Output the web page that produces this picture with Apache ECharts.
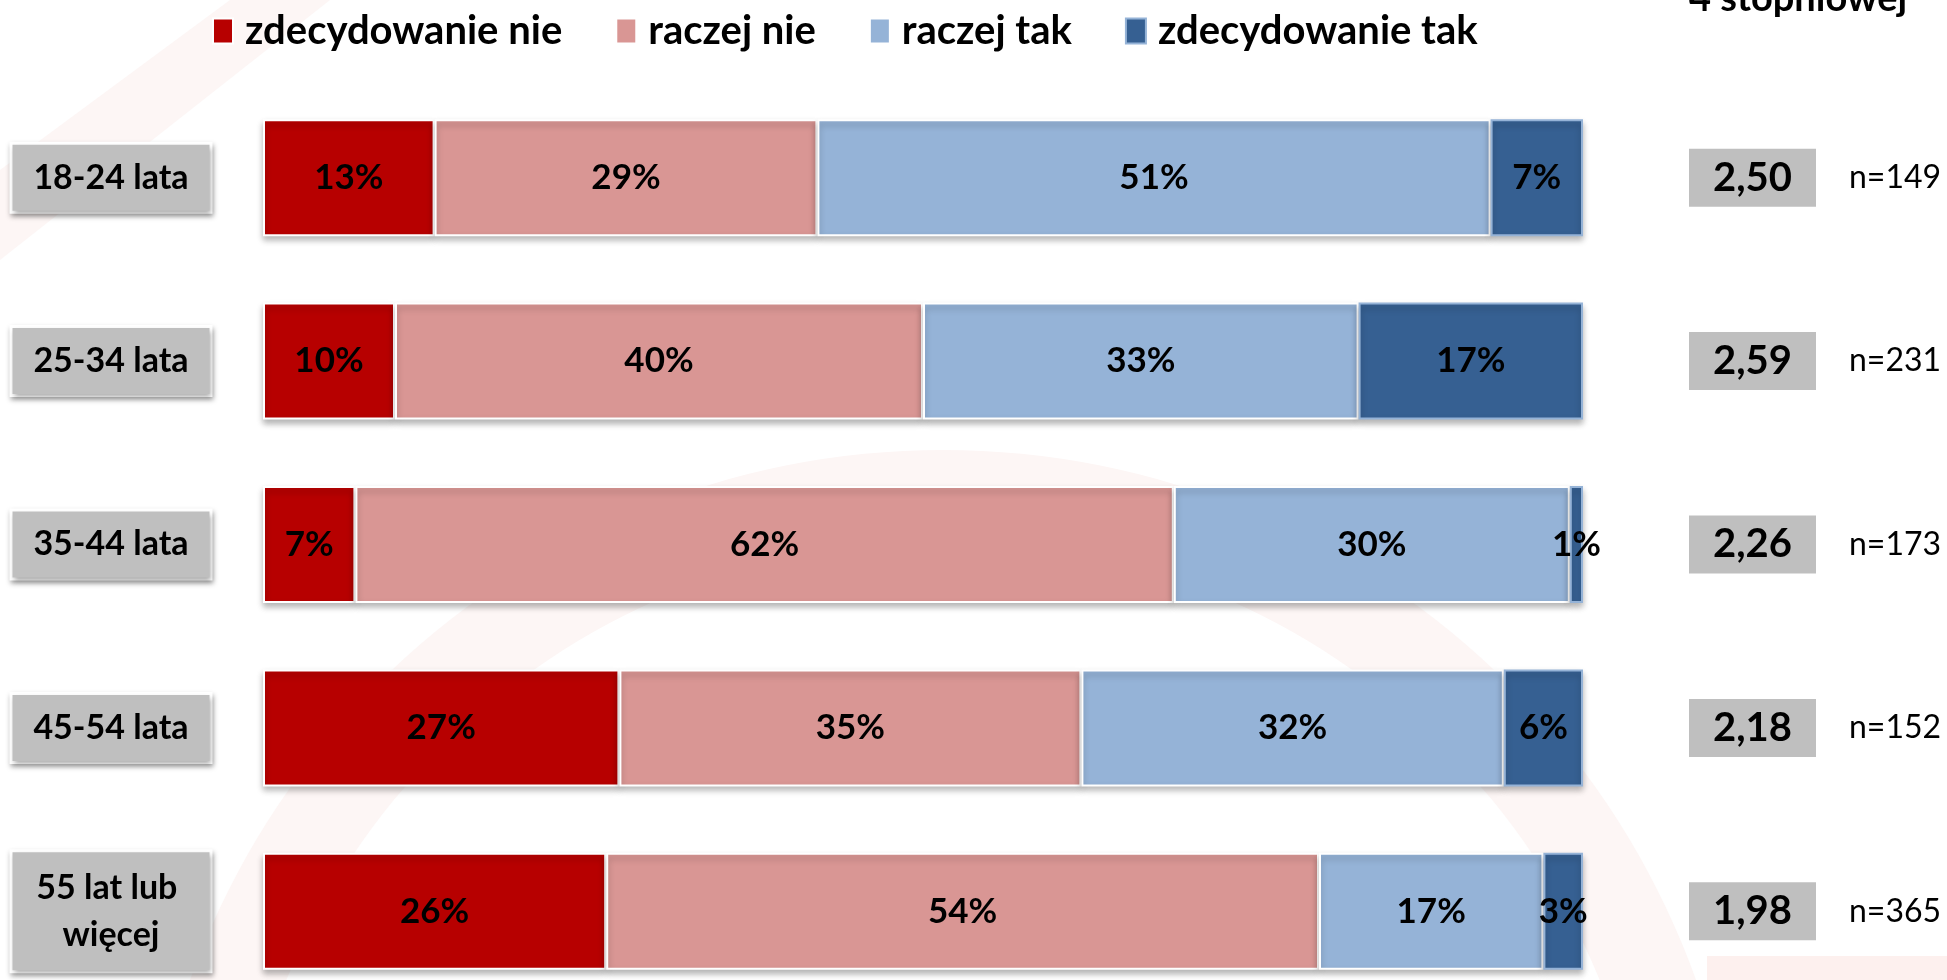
<!DOCTYPE html>
<html>
<head>
<meta charset="utf-8">
<script src="https://cdn.jsdelivr.net/npm/echarts@6/dist/echarts.min.js"></script>
<style>
  html, body { margin: 0; padding: 0; background: #ffffff; }
  #chart { width: 1947px; height: 980px; }
</style>
</head>
<body>
<div id="chart"></div>
<script>
// ---- data ----
const categories = ['18-24 lata', '25-34 lata', '35-44 lata', '45-54 lata', '55 lat lub więcej'];
const seriesNames = ['zdecydowanie nie', 'raczej nie', 'raczej tak', 'zdecydowanie tak'];
const zdecydowanieNie = [13, 10, 7, 27, 26];
const raczejNie = [29, 40, 62, 35, 54];
const raczejTak = [51, 33, 30, 32, 17];
const zdecydowanieTak = [7, 17, 1, 6, 3];
const averages = ['2,50', '2,59', '2,26', '2,18', '1,98'];
const sampleSizes = [149, 231, 173, 152, 365];
const sideTitle = '4 stopniowej';

// ---- styles ----
const colors = ['#B70000', '#D99694', '#95B3D7', '#366092'];
const borders = ['#ffffff', '#ffffff', '#ffffff', '#95B3D7'];
const FONT = 'Lato';

const chart = echarts.init(document.getElementById('chart'));

const values = [zdecydowanieNie, raczejNie, raczejTak, zdecydowanieTak];

const series = seriesNames.map((name, k) => ({
  name: name,
  type: 'bar',
  stack: 'total',
  barWidth: 117,
  data: values[k],
  itemStyle: {
    color: colors[k],
    borderColor: borders[k],
    borderWidth: 2,
    shadowColor: 'rgba(0,0,0,0.28)',
    shadowBlur: 6,
    shadowOffsetY: 4
  },
  label: {
    show: true,
    position: 'inside',
    formatter: '{c}%',
    color: '#000',
    fontFamily: FONT,
    fontWeight: 'bold',
    fontSize: 35
  },
  emphasis: { disabled: true }
}));

const leftLabelStyle = {
  interval: 0,
  margin: 152,
  align: 'center',
  width: 185,
  overflow: 'break',
  backgroundColor: '#BFBFBF',
  borderColor: '#ffffff',
  borderWidth: 3,
  padding: [12, 6],
  lineHeight: 42,
  fontFamily: FONT,
  fontWeight: 'bold',
  fontSize: 34,
  color: '#000',
  shadowColor: 'rgba(0,0,0,0.35)',
  shadowBlur: 5,
  shadowOffsetX: 1,
  shadowOffsetY: 3
};

const leftLabels = categories.map((c, i) =>
  i === categories.length - 1
    ? { value: c, textStyle: Object.assign({}, leftLabelStyle, { lineHeight: 47 }) }
    : c
);

const option = {
  backgroundColor: '#ffffff',
  animation: false,
  graphic: [
    { type: 'ring', silent: true, z: -10,
      shape: { cx: 943, cy: 1250, r: 800, r0: 710 },
      style: { fill: '#fdf6f5' } },
    { type: 'polygon', silent: true, z: -10,
      shape: { points: [[230, 0], [330, 0], [0, 260], [0, 170]] },
      style: { fill: '#fdf6f5' } },
    { type: 'rect', silent: true, z: -10,
      shape: { x: 1707, y: 956, width: 240, height: 30 },
      style: { fill: '#fdf0ee' } },
    { type: 'text', silent: true, left: 1689, top: -20,
      style: { text: sideTitle, fill: '#000', font: 'bold 38px Lato' } }
  ],
  legend: {
    data: seriesNames,
    left: 207,
    top: 6,
    icon: 'rect',
    itemWidth: 20,
    itemHeight: 25,
    itemGap: 53,
    selectedMode: false,
    textStyle: {
      fontFamily: FONT,
      fontWeight: 'bold',
      fontSize: 40,
      color: '#000',
      padding: [0, 0, 0, 7]
    }
  },
  grid: { left: 263, width: 1320, top: 86, height: 917, outerBoundsMode: 'none', containLabel: false },
  xAxis: {
    type: 'value', min: 0, max: 100, show: false
  },
  yAxis: [
    {
      type: 'category',
      data: leftLabels,
      inverse: true,
      axisLine: { show: false },
      axisTick: { show: false },
      axisLabel: leftLabelStyle
    },
    {
      type: 'category',
      data: categories,
      inverse: true,
      position: 'right',
      axisLine: { show: false },
      axisTick: { show: false },
      axisLabel: {
        interval: 0,
        margin: 106,
        align: 'left',
        formatter: (v, i) => '{box|' + averages[i] + '}{n|n=' + sampleSizes[i] + '}',
        rich: {
          box: {
            width: 127, height: 58, lineHeight: 58,
            backgroundColor: '#BFBFBF',
            align: 'center',
            fontFamily: FONT, fontWeight: 'bold', fontSize: 40, color: '#000'
          },
          n: {
            fontFamily: FONT, fontSize: 32, color: '#000',
            padding: [0, 0, 0, 33]
          }
        }
      }
    }
  ],
  series: series
};

chart.setOption(option);
</script>
</body>
</html>
